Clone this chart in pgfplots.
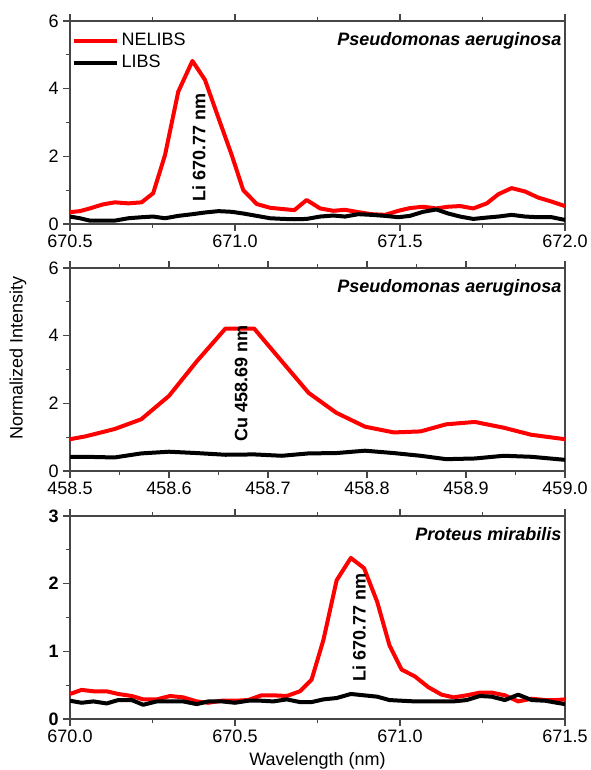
\documentclass[border=0pt]{standalone}
\usepackage{fontspec}
\setmainfont{Liberation Sans}
\setsansfont{Liberation Sans}
\usepackage{pgfplots}
\pgfplotsset{compat=1.18}

\definecolor{nelibs}{RGB}{255,0,0}
\definecolor{axisgrey}{RGB}{70,70,70}
\newcommand{\fs}{\fontsize{13.5}{16}\selectfont}

\pgfplotsset{
  panel/.style={
    width=371.25pt, height=152.25pt, scale only axis,
    axis line style={line width=0.9pt, axisgrey},
    tick align=outside, xtick pos=both, ytick pos=left,
    major tick length=5pt, minor tick length=3pt,
    minor x tick num=1, minor y tick num=1,
    every tick/.style={axisgrey, line width=0.9pt},
    tick label style={font=\fs},
    /pgf/number format/assume math mode=true,
    scaled x ticks=false,
    xticklabel style={/pgf/number format/fixed, /pgf/number format/fixed zerofill,
      /pgf/number format/precision=1},
    yticklabel style={/pgf/number format/fixed, /pgf/number format/precision=0},
    clip mode=individual,
  },
  nel/.style={color=nelibs, line width=3pt, line join=round, no markers},
  lib/.style={black, line width=3pt, line join=round, no markers},
}
\tikzset{
  species/.style={anchor=north east, inner sep=0pt, font=\fs\bfseries\itshape,
    xshift=-2.5pt, yshift=-8.25pt},
  peak/.style={rotate=90, anchor=west, inner sep=0pt, font=\fs\bfseries},
}

\begin{document}
\begin{tikzpicture}
% --- panel 1: Li line, Pseudomonas aeruginosa ---
\begin{axis}[panel, name=p1, at={(0,0)}, anchor=north west,
    xmin=670.5, xmax=672.0, ymin=0, ymax=6,
    xtick={670.5,671.0,671.5,672.0}, ytick={0,2,4,6},
    legend style={at={(0.004,0.945)}, anchor=north west, draw=none, fill=none,
      inner sep=0pt, font=\fs, row sep=3.5pt,
      nodes={inner xsep=2pt, inner ysep=0pt, text height=10pt, text depth=3pt}},
    legend cell align=left,
    legend image code/.code={\draw[#1] (0pt,0pt) -- (32pt,0pt);},
]
\addplot[nel] coordinates {
 (670.50,0.35) (670.53,0.38) (670.56,0.46) (670.60,0.58) (670.636,0.64)
 (670.677,0.61) (670.717,0.64) (670.752,0.91) (670.788,2.04) (670.828,3.91)
 (670.871,4.82) (670.909,4.26) (670.95,3.13) (670.99,2.04) (671.025,1.00)
 (671.066,0.59) (671.106,0.48) (671.146,0.44) (671.18,0.41) (671.217,0.71)
 (671.258,0.46) (671.298,0.39) (671.333,0.42) (671.374,0.35) (671.414,0.29)
 (671.455,0.27) (671.495,0.39) (671.53,0.47) (671.57,0.51) (671.61,0.46)
 (671.646,0.51) (671.682,0.53) (671.722,0.46) (671.763,0.61) (671.798,0.88)
 (671.838,1.06) (671.879,0.96) (671.919,0.78) (671.96,0.66) (672.0,0.53)
};
\addlegendentry{NELIBS}
\addplot[lib] coordinates {
 (670.50,0.22) (670.53,0.17) (670.56,0.10) (670.60,0.10) (670.636,0.10)
 (670.677,0.17) (670.717,0.20) (670.752,0.22) (670.788,0.17) (670.828,0.24)
 (670.871,0.29) (670.909,0.34) (670.95,0.38) (670.99,0.36) (671.025,0.31)
 (671.066,0.24) (671.106,0.17) (671.146,0.15) (671.18,0.14) (671.217,0.15)
 (671.258,0.22) (671.298,0.25) (671.333,0.22) (671.374,0.29) (671.414,0.27)
 (671.455,0.24) (671.495,0.20) (671.53,0.24) (671.57,0.36) (671.61,0.43)
 (671.646,0.31) (671.682,0.22) (671.722,0.15) (671.763,0.19) (671.798,0.22)
 (671.838,0.27) (671.879,0.22) (671.919,0.20) (671.96,0.20) (672.0,0.12)
};
\addlegendentry{LIBS}
\node[species] at (rel axis cs:1,1) {Pseudomonas aeruginosa};
\node[peak] at (axis cs:670.891,0.65) {Li 670.77 nm};
\end{axis}

% --- panel 2: Cu line, Pseudomonas aeruginosa ---
\begin{axis}[panel, name=p2, at={(0,-185.25pt)}, anchor=north west,
    xmin=458.5, xmax=459.0, ymin=0, ymax=6,
    xtick={458.5,458.6,458.7,458.8,458.9,459.0}, ytick={0,2,4,6},
]
\addplot[nel] coordinates {
 (458.50,0.94) (458.515,1.02) (458.545,1.24) (458.572,1.53) (458.60,2.22)
 (458.628,3.24) (458.657,4.21) (458.686,4.21) (458.714,3.24) (458.741,2.31)
 (458.769,1.72) (458.798,1.31) (458.827,1.14) (458.854,1.17) (458.88,1.38)
 (458.909,1.45) (458.938,1.28) (458.966,1.07) (459.0,0.94)
};
\addplot[lib] coordinates {
 (458.50,0.42) (458.515,0.42) (458.545,0.40) (458.572,0.52) (458.60,0.57)
 (458.628,0.53) (458.657,0.48) (458.686,0.49) (458.714,0.45) (458.741,0.52)
 (458.769,0.53) (458.798,0.60) (458.827,0.53) (458.854,0.45) (458.88,0.35)
 (458.909,0.37) (458.938,0.45) (458.966,0.42) (459.0,0.33)
};
\node[species] at (rel axis cs:1,1) {Pseudomonas aeruginosa};
\node[peak] at (axis cs:458.673,0.86) {Cu 458.69 nm};
\end{axis}

% --- panel 3: Li line, Proteus mirabilis ---
\begin{axis}[panel, name=p3, at={(0,-371.25pt)}, anchor=north west,
    xmin=670.0, xmax=671.5, ymin=0, ymax=3,
    xtick={670.0,670.5,671.0,671.5}, ytick={0,1,2,3},
    yticklabel style={/tikz/font=\fs\bfseries},
    xlabel={Wavelength (nm)}, xlabel style={font=\fs},
]
\addplot[nel] coordinates {
 (670.00,0.37) (670.035,0.43) (670.071,0.41) (670.111,0.41) (670.146,0.37)
 (670.187,0.34) (670.222,0.29) (670.263,0.29) (670.303,0.34) (670.343,0.32)
 (670.384,0.26) (670.419,0.24) (670.46,0.27) (670.50,0.27) (670.54,0.28)
 (670.58,0.35) (670.616,0.35) (670.657,0.34) (670.697,0.41) (670.732,0.58)
 (670.768,1.17) (670.808,2.05) (670.851,2.38) (670.891,2.23) (670.931,1.73)
 (670.968,1.09) (671.005,0.73) (671.045,0.63) (671.086,0.47) (671.126,0.36)
 (671.162,0.32) (671.202,0.35) (671.242,0.39) (671.278,0.39) (671.318,0.35)
 (671.358,0.26) (671.399,0.30) (671.44,0.28) (671.475,0.28) (671.5,0.29)
};
\addplot[lib] coordinates {
 (670.00,0.27) (670.035,0.24) (670.071,0.26) (670.111,0.23) (670.146,0.28)
 (670.187,0.28) (670.222,0.21) (670.263,0.26) (670.303,0.26) (670.343,0.26)
 (670.384,0.22) (670.419,0.26) (670.46,0.26) (670.50,0.24) (670.54,0.27)
 (670.58,0.27) (670.616,0.26) (670.657,0.29) (670.697,0.25) (670.732,0.25)
 (670.768,0.29) (670.808,0.31) (670.851,0.37) (670.891,0.35) (670.931,0.33)
 (670.968,0.28) (671.005,0.27) (671.045,0.26) (671.086,0.26) (671.126,0.26)
 (671.162,0.26) (671.202,0.28) (671.242,0.34) (671.278,0.33) (671.318,0.28)
 (671.358,0.36) (671.399,0.28) (671.44,0.27) (671.475,0.24) (671.5,0.22)
};
\node[species] at (rel axis cs:1,1) {Proteus mirabilis};
\node[peak] at (axis cs:670.876,0.55) {Li 670.77 nm};
\end{axis}

\node[rotate=90, font=\fs] at ([xshift=-39pt,yshift=9pt]p2.west) {Normalized Intensity};

\pgfresetboundingbox
\path ([xshift=-52.5pt,yshift=15.75pt]p1.north west) rectangle ([xshift=19.5pt,yshift=-38.25pt]p3.south east);
\end{tikzpicture}
\end{document}
